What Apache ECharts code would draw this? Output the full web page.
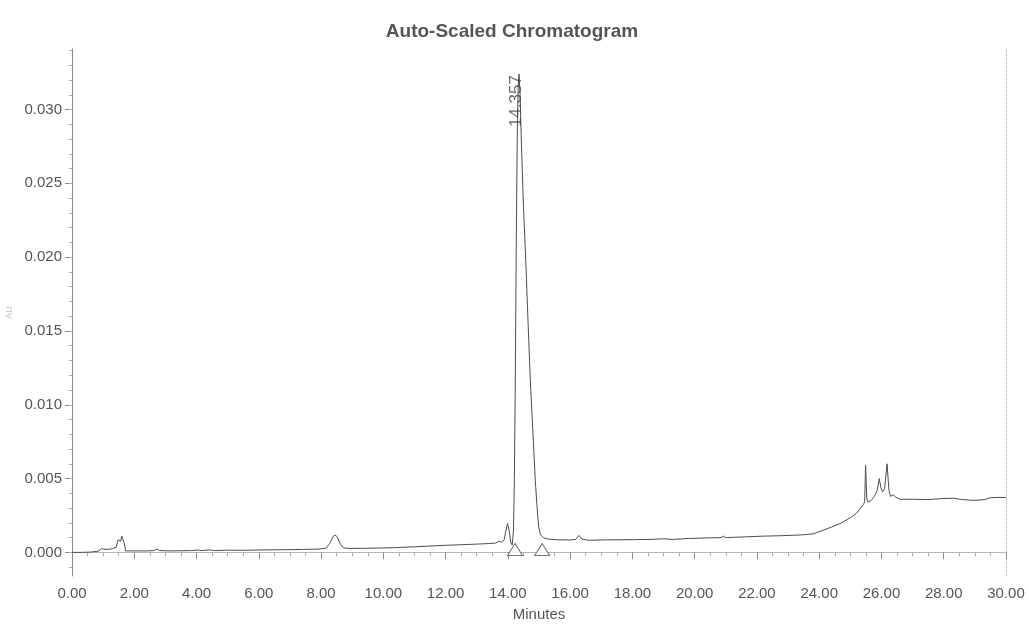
<!DOCTYPE html>
<html>
<head>
<meta charset="utf-8">
<script src="https://cdn.jsdelivr.net/npm/echarts@6/dist/echarts.min.js"></script>
<style>
  html, body { margin: 0; padding: 0; background: #fff; }
  #chart { width: 1029px; height: 624px; }
</style>
</head>
<body>
<div id="chart"></div>
<script>
// Detector trace: retention time (min) and absorbance (AU)
const retentionTimes = [
  0.00, 0.30, 0.60, 0.85, 0.95, 1.02, 1.15, 1.30, 1.42, 1.48, 1.53, 1.56, 1.60, 1.64, 1.68, 1.72, 1.78,
  2.00, 2.40, 2.62, 2.72, 2.82, 3.20, 3.80, 4.05, 4.15, 4.45, 4.55, 5.00, 5.60, 6.20, 6.80, 7.40, 7.90,
  8.15, 8.28, 8.38, 8.45, 8.52, 8.62, 8.72, 8.90, 9.50, 10.00, 10.50, 11.00, 11.50, 12.00, 12.50, 13.00,
  13.40, 13.60, 13.72, 13.80, 13.88, 13.94, 13.99, 14.04, 14.09, 14.14, 14.18, 14.21, 14.24, 14.27, 14.30,
  14.33, 14.357, 14.39, 14.43, 14.50, 14.58, 14.65, 14.72, 14.80, 14.88, 14.94, 14.99, 15.05, 15.15, 15.30,
  15.60, 16.00, 16.18, 16.28, 16.38, 16.60, 17.20, 18.00, 18.60, 19.00, 19.30, 19.80, 20.40, 20.85, 20.92,
  21.00, 21.60, 22.20, 22.80, 23.40, 23.80, 24.10, 24.40, 24.70, 25.00, 25.20, 25.40, 25.46, 25.49, 25.53,
  25.57, 25.66, 25.74, 25.80, 25.86, 25.93, 25.98, 26.03, 26.10, 26.18, 26.24, 26.29, 26.38, 26.45, 26.60,
  27.00, 27.50, 28.00, 28.30, 28.60, 28.95, 29.30, 29.50, 29.70, 30.00
];
const absorbance = [
  0.00000, 0.00000, 0.00002, 0.00008, 0.00025, 0.00022, 0.00020, 0.00025, 0.00035, 0.00085, 0.00090, 0.00075, 0.00110, 0.00118, 0.00060, 0.00010, 0.00008,
  0.00010, 0.00010, 0.00012, 0.00022, 0.00012, 0.00010, 0.00012, 0.00016, 0.00012, 0.00017, 0.00012, 0.00015, 0.00014, 0.00017, 0.00018, 0.00020, 0.00022,
  0.00028, 0.00060, 0.00105, 0.00118, 0.00105, 0.00055, 0.00030, 0.00027, 0.00028, 0.00030, 0.00033, 0.00038, 0.00043, 0.00048, 0.00052, 0.00056,
  0.00060, 0.00063, 0.00075, 0.00070, 0.00085, 0.00150, 0.00196, 0.00150, 0.00070, 0.00050, 0.00150, 0.00500, 0.01200, 0.02100, 0.02800,
  0.03150, 0.03240, 0.03120, 0.02800, 0.02350, 0.01950, 0.01550, 0.01170, 0.00830, 0.00490, 0.00300, 0.00170, 0.00120, 0.00098, 0.00090,
  0.00085, 0.00084, 0.00088, 0.00115, 0.00090, 0.00082, 0.00085, 0.00086, 0.00088, 0.00092, 0.00088, 0.00094, 0.00098, 0.00100, 0.00110,
  0.00100, 0.00105, 0.00110, 0.00113, 0.00118, 0.00125, 0.00148, 0.00172, 0.00198, 0.00235, 0.00265, 0.00320, 0.00340, 0.00590, 0.00360,
  0.00340, 0.00350, 0.00370, 0.00390, 0.00420, 0.00500, 0.00440, 0.00410, 0.00430, 0.00600, 0.00420, 0.00380, 0.00390, 0.00375, 0.00360,
  0.00360, 0.00358, 0.00365, 0.00367, 0.00358, 0.00352, 0.00357, 0.00370, 0.00372, 0.00372
];

// Integrated peak: apex time / height, and baseline start / end markers
const peakApexTimes = [14.357];
const peakApexHeights = [0.0324];
const baselineMarkTimes = [14.23, 15.10];
const baselineMarkLevels = [0.0002, 0.0002];

// Axis tick values
const yLabelTicks = [0.000, 0.005, 0.010, 0.015, 0.020, 0.025, 0.030];
const yMinorTicks = [-0.001, 0.000, 0.001, 0.002, 0.003, 0.004, 0.005, 0.006, 0.007, 0.008, 0.009, 0.010,
  0.011, 0.012, 0.013, 0.014, 0.015, 0.016, 0.017, 0.018, 0.019, 0.020, 0.021, 0.022, 0.023, 0.024,
  0.025, 0.026, 0.027, 0.028, 0.029, 0.030, 0.031, 0.032, 0.033, 0.034];

const Y_MIN = -0.0016, Y_MAX = 0.0341;
const FONT = 'Liberation Sans, Arial, sans-serif';
const TEXT = '#555';
const AXIS = '#8a8a8a';

const trace = retentionTimes.map((t, i) => [t, absorbance[i]]);
const apexPoints = peakApexTimes.map((t, i) => [t, peakApexHeights[i]]);
const markPoints = baselineMarkTimes.map((t, i) => [t, baselineMarkLevels[i]]);

const chart = echarts.init(document.getElementById('chart'), null, { renderer: 'canvas' });
chart.setOption({
  animation: false,
  backgroundColor: '#fff',
  title: {
    text: 'Auto-Scaled Chromatogram',
    left: 507, top: 17, textAlign: 'center',
    textStyle: { fontFamily: FONT, fontSize: 19, fontWeight: 'bold', color: TEXT }
  },
  grid: { left: 72, right: 23, top: 49, bottom: 48, show: false, outerBoundsMode: 'none', containLabel: false },
  xAxis: [
    {
      type: 'value', min: 0, max: 30, interval: 2, position: 'bottom',
      name: 'Minutes', nameLocation: 'middle', nameGap: 31,
      nameTextStyle: { fontFamily: FONT, fontSize: 15, color: TEXT },
      axisLine: { show: true, lineStyle: { color: AXIS, width: 1 } },
      axisTick: { show: true, length: 7, lineStyle: { color: AXIS } },
      minorTick: { show: true, splitNumber: 4, length: 4, lineStyle: { color: '#aaa' } },
      splitLine: { show: false },
      axisLabel: { margin: 10, fontFamily: FONT, fontSize: 15, color: TEXT,
        formatter: v => v.toFixed(2) }
    },
    {
      type: 'value', min: 0, max: 30, position: 'top',
      axisLine: { show: true, lineStyle: { color: '#b5b5b5', width: 1 } },
      axisTick: { show: false }, axisLabel: { show: false }, splitLine: { show: false }
    }
  ],
  yAxis: [
    {
      type: 'value', min: Y_MIN, max: Y_MAX, position: 'left',
      name: 'AU', nameLocation: 'middle', nameGap: 58, nameRotate: 90,
      nameTextStyle: { fontFamily: FONT, fontSize: 9, color: '#bbb' },
      axisLine: { show: true, lineStyle: { color: AXIS, width: 1 } },
      axisTick: { show: true, length: 7, customValues: yLabelTicks, lineStyle: { color: AXIS } },
      splitLine: { show: false },
      axisLabel: { margin: 10, fontFamily: FONT, fontSize: 15, color: TEXT,
        customValues: yLabelTicks, formatter: v => v.toFixed(3) }
    },
    {
      type: 'value', min: Y_MIN, max: Y_MAX, position: 'left',
      axisLine: { show: false },
      axisTick: { show: true, length: 3, customValues: yMinorTicks, lineStyle: { color: '#aaa' } },
      axisLabel: { show: false }, splitLine: { show: false }
    },
    {
      type: 'value', min: Y_MIN, max: Y_MAX, position: 'right',
      axisLine: { show: true, lineStyle: { color: '#bdbdbd', width: 1, type: [2, 2] } },
      axisTick: { show: false }, axisLabel: { show: false }, splitLine: { show: false }
    }
  ],
  series: [
    {
      name: 'trace', type: 'line', xAxisIndex: 0, yAxisIndex: 0,
      data: trace, showSymbol: false, symbol: 'none', smooth: false,
      lineStyle: { color: '#4d4d4d', width: 1 }
    },
    {
      name: 'baseline marks', type: 'scatter', xAxisIndex: 0, yAxisIndex: 0,
      data: markPoints, symbol: 'triangle', symbolSize: [15, 12],
      itemStyle: { color: '#fff', borderColor: '#555', borderWidth: 1 },
      z: 3
    },
    {
      name: 'apex labels', type: 'scatter', xAxisIndex: 0, yAxisIndex: 0,
      data: apexPoints, symbol: 'circle', symbolSize: 1,
      itemStyle: { color: 'rgba(0,0,0,0)' },
      label: {
        show: true, position: 'inside', rotate: 90, offset: [-27, -3],
        fontFamily: FONT, fontSize: 17, color: '#444',
        formatter: p => p.value[0].toFixed(3)
      },
      z: 4
    }
  ]
});
</script>
</body>
</html>
